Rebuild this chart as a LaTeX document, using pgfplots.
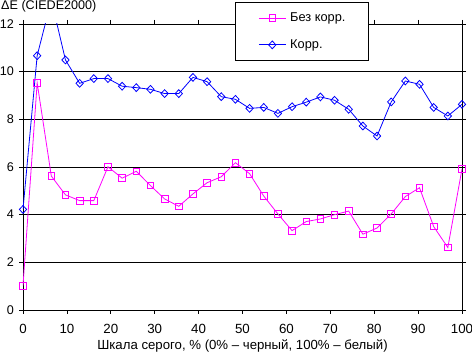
\documentclass[border=0pt]{standalone}
\usepackage{pgfplots}
\pgfplotsset{compat=1.18}
\usepackage{fontspec}
\setmainfont{Liberation Sans}
\definecolor{mag}{RGB}{255,0,255}
\definecolor{blu}{RGB}{0,0,255}
\begin{document}
\fontsize{13.3}{16}\selectfont
\begin{tikzpicture}
\useasboundingbox (-23pt,-43pt) rectangle (449pt,310pt);
\begin{axis}[
  at={(0,0)}, anchor=south west,
  scale only axis, width=439pt, height=286pt,
  xmin=0, xmax=100, ymin=0, ymax=12,
  xtick={0,10,...,100}, ytick={0,2,...,12},
  tick align=outside, major tick length=4pt,
  tick style={black, line width=0.8pt},
  axis line style={black, line width=0.8pt},
  ymajorgrids, grid style={black, line width=0.8pt},
  /pgf/number format/assume math mode=true,
  xticklabel style={font=\fontsize{13.3}{16}\selectfont, inner sep=0pt, anchor=north, yshift=-10.5pt},
  yticklabel style={font=\fontsize{12.6}{15}\selectfont, inner sep=0pt, xshift=-5pt},
  xlabel={Шкала серого, \% (0\% – черный, 100\% – белый)},
  xlabel style={font=\fontsize{13.2}{16}\selectfont, at={(axis description cs:0.5,0)}, anchor=base, yshift=-39.5pt},
  legend cell align=left,
  legend image code/.code={\draw[mark repeat=2,mark phase=2,#1] plot coordinates {(0pt,0pt) (13.5pt,0pt) (27pt,0pt)};},
  legend style={at={(axis description cs:0.4829,1.0759)}, anchor=north west,
    draw=black, line width=0.8pt, font=\fontsize{12.8}{15}\selectfont,
    nodes={inner sep=0pt},
    /tikz/every odd column/.append style={column sep=4pt},
    inner xsep=23pt, inner ysep=10pt, row sep=16pt},
]
\addplot[mag, line width=0.8pt, mark=square, mark size=3.3pt, mark options={fill=white, solid}] coordinates {
(0,1.02) (3.226,9.53) (6.452,5.62) (9.677,4.83) (12.903,4.59) (16.129,4.59)
(19.355,6.01) (22.581,5.53) (25.806,5.82) (29.032,5.22) (32.258,4.66) (35.484,4.35)
(38.710,4.87) (41.935,5.34) (45.161,5.59) (48.387,6.18) (51.613,5.72) (54.839,4.78)
(58.065,4.03) (61.290,3.33) (64.516,3.71) (67.742,3.82) (70.968,4.00) (74.194,4.15)
(77.419,3.18) (80.645,3.44) (83.871,4.03) (87.097,4.76) (90.323,5.13) (93.548,3.50)
(96.774,2.62) (100,5.92)};
\addlegendentry{Без корр.}
\addplot[blu, line width=0.8pt, mark=diamond, mark size=3.9pt, mark options={fill=white, solid, xscale=1.25}] coordinates {
(0,4.22) (3.226,10.67) (6.452,13.0) (9.677,10.49) (12.903,9.51) (16.129,9.71)
(19.355,9.71) (22.581,9.39) (25.806,9.33) (29.032,9.26) (32.258,9.08) (35.484,9.08)
(38.710,9.76) (41.935,9.58) (45.161,8.95) (48.387,8.84) (51.613,8.46) (54.839,8.50)
(58.065,8.25) (61.290,8.53) (64.516,8.72) (67.742,8.94) (70.968,8.80) (74.194,8.42)
(77.419,7.72) (80.645,7.30) (83.871,8.73) (87.097,9.61) (90.323,9.47) (93.548,8.50)
(96.774,8.14) (100,8.63)};
\addlegendentry{Корр.}
\end{axis}
\node[anchor=base west, inner sep=0pt, font=\fontsize{12.6}{15}\selectfont] at (-22pt,300.5pt) {ΔE (CIEDE2000)};
\end{tikzpicture}
\end{document}
